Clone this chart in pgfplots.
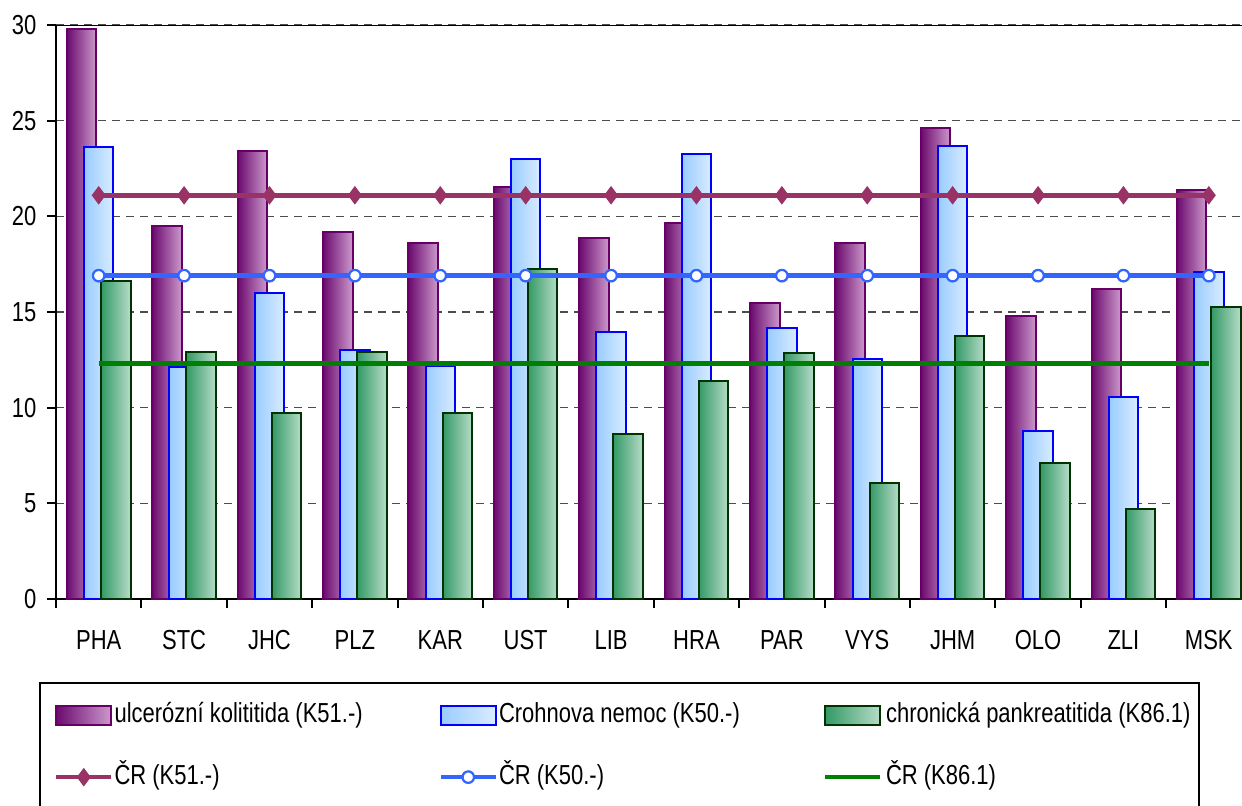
\documentclass[border=0pt]{standalone}
\usepackage{fontspec}
\setmainfont{Liberation Sans}[FakeStretch=0.8]
\usepackage{pgfplots}
\usepackage{pgfplotstable}
\pgfplotsset{compat=1.18}

\definecolor{purD}{HTML}{6B0A6E}
\definecolor{purL}{HTML}{CC99CC}
\definecolor{purE}{HTML}{660066}
\definecolor{bluL1}{HTML}{99CCFF}
\definecolor{bluL2}{HTML}{D9ECFF}
\definecolor{bluE}{HTML}{0000FF}
\definecolor{grnD}{HTML}{339966}
\definecolor{grnL}{HTML}{B7DCC8}
\definecolor{grnE}{HTML}{003300}
\definecolor{linP}{HTML}{993366}
\definecolor{linB}{HTML}{3366FF}
\definecolor{linG}{HTML}{008000}

\pgfplotstableread{
x cr51 cr50 cr86
0 21.1 16.9 12.3
1 21.1 16.9 12.3
2 21.1 16.9 12.3
3 21.1 16.9 12.3
4 21.1 16.9 12.3
5 21.1 16.9 12.3
6 21.1 16.9 12.3
7 21.1 16.9 12.3
8 21.1 16.9 12.3
9 21.1 16.9 12.3
10 21.1 16.9 12.3
11 21.1 16.9 12.3
12 21.1 16.9 12.3
13 21.1 16.9 12.3
}\linedata

\pgfplotsset{
  barlegend/.style={legend image code/.code={\draw[##1] (0pt,-3.8pt) rectangle (22pt,3.8pt);}},
  linelegend/.style={legend image code/.code={\draw[mark repeat=2,mark phase=2,##1] plot coordinates {(0pt,0pt) (11pt,0pt) (22pt,0pt)};}},
  purbar/.style={ybar, bar width=0.345, bar shift=-0.2, draw=purE, line width=0.8pt, left color=purD, right color=purL, barlegend},
  blubar/.style={ybar, bar width=0.345, bar shift=0, draw=bluE, line width=0.8pt, left color=bluL1, right color=bluL2, barlegend},
  grnbar/.style={ybar, bar width=0.345, bar shift=0.2, draw=grnE, line width=0.8pt, left color=grnD, right color=grnL, barlegend},
}

\begin{document}
\begin{tikzpicture}
\begin{axis}[
  at={(22.4pt,82.4pt)}, anchor=south west,
  scale only axis, width=478.2pt, height=229.6pt,
  xmin=-0.5, xmax=13.5, ymin=0, ymax=30,
  axis x line*=bottom, axis y line*=left,
  axis line style={line width=0.8pt, black},
  ytick={0,5,...,30},
  xtick={-0.5,0.5,...,13.5}, xticklabels={},
  extra x ticks={0,...,13},
  extra x tick labels={PHA,STC,JHC,PLZ,KAR,UST,LIB,HRA,PAR,VYS,JHM,OLO,ZLI,MSK},
  extra x tick style={grid=none, major tick length=0pt, xticklabel style={yshift=-9pt}},
  tick align=outside, major tick length=3.6pt,
  tick style={black, line width=0.8pt},
  ymajorgrids, grid style={black!70, line width=0.5pt, dash pattern=on 3.2pt off 2.4pt},
  ticklabel style={font=\fontsize{11}{13}\selectfont},
  yticklabel style={xshift=-0.7pt},
  /pgf/number format/assume math mode=true,
  legend columns=3,
  legend cell align=left,
  legend style={at={(axis description cs:-0.0142,-0.1446)}, anchor=north west,
    draw=black, line width=0.8pt, inner xsep=5.6pt, inner ysep=7.6pt,
    column sep=0pt, row sep=14.3pt,
    nodes={inner sep=0pt, text height=8pt, text depth=2.5pt},
    font=\fontsize{11}{13}\selectfont},
]
% first group carries the legend entries; every bar is its own path so it gets its own gradient
\addplot[purbar] coordinates {(0,29.8)};
\addlegendentry{\makebox[130pt][l]{\hspace{0.4pt}ulcerózní kolititida (K51.-)}}
\addplot[blubar] coordinates {(0,23.6)};
\addlegendentry{\makebox[130pt][l]{\hspace{0.4pt}Crohnova nemoc (K50.-)}}
\addplot[grnbar] coordinates {(0,16.6)};
\addlegendentry{\makebox[121pt][l]{\hspace{1.4pt}chronická pankreatitida (K86.1)}}
% STC
\addplot[purbar, forget plot] coordinates {(1,19.5)};
\addplot[blubar, forget plot] coordinates {(1,12.1)};
\addplot[grnbar, forget plot] coordinates {(1,12.9)};
% JHC
\addplot[purbar, forget plot] coordinates {(2,23.4)};
\addplot[blubar, forget plot] coordinates {(2,16.0)};
\addplot[grnbar, forget plot] coordinates {(2,9.7)};
% PLZ
\addplot[purbar, forget plot] coordinates {(3,19.2)};
\addplot[blubar, forget plot] coordinates {(3,13.0)};
\addplot[grnbar, forget plot] coordinates {(3,12.9)};
% KAR
\addplot[purbar, forget plot] coordinates {(4,18.6)};
\addplot[blubar, forget plot] coordinates {(4,12.2)};
\addplot[grnbar, forget plot] coordinates {(4,9.7)};
% UST
\addplot[purbar, forget plot] coordinates {(5,21.55)};
\addplot[blubar, forget plot] coordinates {(5,23.0)};
\addplot[grnbar, forget plot] coordinates {(5,17.25)};
% LIB
\addplot[purbar, forget plot] coordinates {(6,18.85)};
\addplot[blubar, forget plot] coordinates {(6,13.95)};
\addplot[grnbar, forget plot] coordinates {(6,8.6)};
% HRA
\addplot[purbar, forget plot] coordinates {(7,19.65)};
\addplot[blubar, forget plot] coordinates {(7,23.25)};
\addplot[grnbar, forget plot] coordinates {(7,11.4)};
% PAR
\addplot[purbar, forget plot] coordinates {(8,15.45)};
\addplot[blubar, forget plot] coordinates {(8,14.15)};
\addplot[grnbar, forget plot] coordinates {(8,12.85)};
% VYS
\addplot[purbar, forget plot] coordinates {(9,18.6)};
\addplot[blubar, forget plot] coordinates {(9,12.55)};
\addplot[grnbar, forget plot] coordinates {(9,6.05)};
% JHM
\addplot[purbar, forget plot] coordinates {(10,24.6)};
\addplot[blubar, forget plot] coordinates {(10,23.7)};
\addplot[grnbar, forget plot] coordinates {(10,13.75)};
% OLO
\addplot[purbar, forget plot] coordinates {(11,14.8)};
\addplot[blubar, forget plot] coordinates {(11,8.8)};
\addplot[grnbar, forget plot] coordinates {(11,7.1)};
% ZLI
\addplot[purbar, forget plot] coordinates {(12,16.2)};
\addplot[blubar, forget plot] coordinates {(12,10.55)};
\addplot[grnbar, forget plot] coordinates {(12,4.7)};
% MSK
\addplot[purbar, forget plot] coordinates {(13,21.4)};
\addplot[blubar, forget plot] coordinates {(13,17.1)};
\addplot[grnbar, forget plot] coordinates {(13,15.25)};
% national averages
\addplot[linP, line width=1.8pt, mark=diamond*, mark size=3.4pt, mark options={fill=linP, draw=linP, line width=0.4pt}, linelegend]
  table[x=x, y=cr51]{\linedata};
\addlegendentry{\makebox[130pt][l]{\hspace{0.4pt}ČR (K51.-)}}
\addplot[linB, line width=1.8pt, mark=*, mark size=2.3pt, mark options={fill=white, draw=linB, line width=0.9pt}, linelegend]
  table[x=x, y=cr50]{\linedata};
\addlegendentry{\makebox[130pt][l]{\hspace{0.4pt}ČR (K50.-)}}
\addplot[linG, line width=1.8pt, no markers, linelegend]
  table[x=x, y=cr86]{\linedata};
\addlegendentry{\makebox[121pt][l]{\hspace{1.4pt}ČR (K86.1)}}
\draw[line width=0.8pt, black] (rel axis cs:0,1) -- (rel axis cs:1,1);
\end{axis}
\pgfresetboundingbox
\useasboundingbox (0,0) rectangle (496.8pt,322pt);
\end{tikzpicture}
\end{document}
